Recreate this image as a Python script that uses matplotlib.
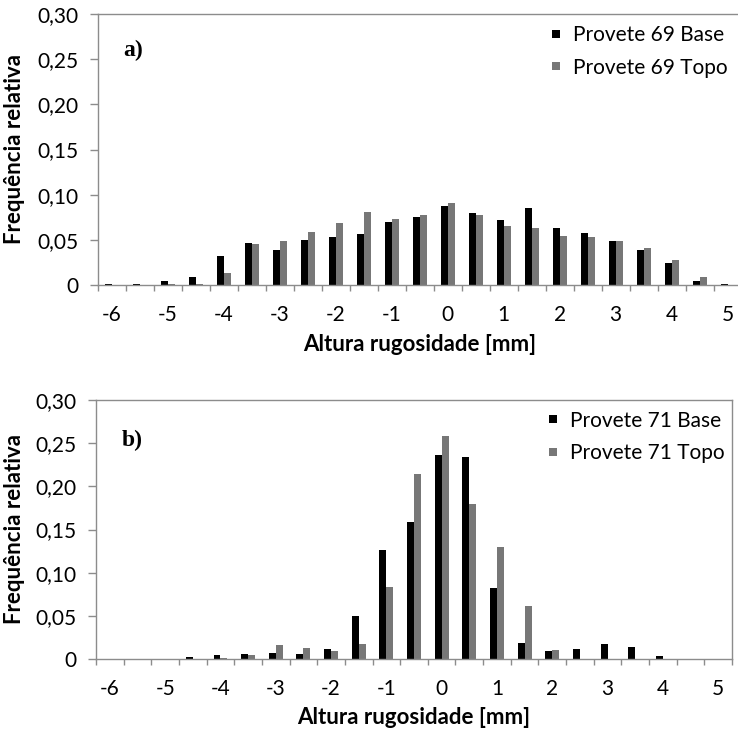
import numpy as np
import matplotlib.pyplot as plt

plt.rcParams['font.family'] = ['Lato', 'DejaVu Sans']

# roughness height classes [mm], step 0.5
alturas = np.arange(-6.0, 5.01, 0.5)
xlabels = ['-6', '-5', '-4', '-3', '-2', '-1', '0', '1', '2', '3', '4', '5']
ylabels = ['0', '0,05', '0,10', '0,15', '0,20', '0,25', '0,30']

# relative frequencies, specimen 69
base69 = [0.001, 0.001, 0.0045, 0.0093, 0.032, 0.0468, 0.0386, 0.0498, 0.0531, 0.0569, 0.0693, 0.0751,
          0.0877, 0.0795, 0.0717, 0.0848, 0.0636, 0.0572, 0.049, 0.039, 0.0249, 0.0045, 0.001]
topo69 = [0.0, 0.0, 0.001, 0.001, 0.0137, 0.0457, 0.0483, 0.0583, 0.0684, 0.0803, 0.0736, 0.0777,
          0.0903, 0.0777, 0.0654, 0.0636, 0.0542, 0.0535, 0.0487, 0.0413, 0.0274, 0.0093, 0.0]

# relative frequencies, specimen 71
base71 = [0.0, 0.0, 0.0, 0.0019, 0.005, 0.0061, 0.0069, 0.0057, 0.0119, 0.0497, 0.1258, 0.159,
          0.236, 0.234, 0.0826, 0.0184, 0.0092, 0.0111, 0.0176, 0.0141, 0.0038, 0.0, 0.0]
topo71 = [0.0, 0.0, 0.0, 0.0, 0.001, 0.005, 0.0157, 0.0122, 0.0096, 0.0176, 0.0834, 0.214,
          0.258, 0.1797, 0.1293, 0.0612, 0.0107, 0.0, 0.0, 0.0, 0.0, 0.0, 0.0]

cinza = '#8c8c8c'


def painel(ax, base, topo, nomes, letra, leg_x, letra_y, xlab_y, ylab_x):
    x = np.arange(len(alturas))
    w = 0.25
    ax.bar(x - w/2, base, w, color='black', label=nomes[0])
    ax.bar(x + w/2, topo, w, color='#777777', label=nomes[1])

    ax.set_xlim(-0.5, len(alturas) - 0.5)
    ax.set_ylim(0, 0.30)
    ax.set_yticks(np.arange(0, 0.301, 0.05))
    ax.set_yticklabels(ylabels, fontsize=15)

    # ticks between classes, labels on every second class
    ax.set_xticks(np.arange(-0.5, len(alturas), 1.0))
    ax.set_xticklabels([])
    ax.set_xticks(x[::2], minor=True)
    ax.set_xticklabels(xlabels, minor=True, fontsize=15)
    ax.tick_params(axis='x', which='major', direction='out', length=4.5, color=cinza, width=1)
    ax.tick_params(axis='x', which='minor', length=0, pad=14.5)
    ax.tick_params(axis='y', direction='out', length=5.5, color=cinza, width=1, pad=8.5)

    for s in ax.spines.values():
        s.set_color(cinza)
        s.set_linewidth(1.0)

    ax.set_xlabel('Altura rugosidade [mm]', fontsize=16, fontweight='bold')
    ax.set_ylabel('Frequência relativa', fontsize=16, fontweight='bold')
    ax.xaxis.set_label_coords(0.5, xlab_y)
    ax.yaxis.set_label_coords(ylab_x, 0.5)

    ax.text(0.04, letra_y, letra, transform=ax.transAxes, fontsize=17, fontweight='bold',
            family='Liberation Serif', va='center')
    # small square keys
    ax.legend(loc='upper left', bbox_to_anchor=(leg_x, 0.958), frameon=False, fontsize=15,
              handlelength=0.4, handleheight=0.21, handletextpad=0.6, labelspacing=0.6,
              borderaxespad=0, borderpad=0)


fig = plt.figure(figsize=(7.38, 7.38), dpi=100)
ax1 = fig.add_axes([97.7/738, (738 - 285)/738, 644/738, 271/738])
ax2 = fig.add_axes([96/738, 79/738, 636/738, 259/738])

painel(ax1, base69, topo69, ['Provete 69 Base', 'Provete 69 Topo'], 'a)', 0.705, 0.865, -0.181, -0.113)
painel(ax2, base71, topo71, ['Provete 71 Base', 'Provete 71 Topo'], 'b)', 0.712, 0.845, -0.185, -0.112)

fig.savefig('out.png', dpi=100)
